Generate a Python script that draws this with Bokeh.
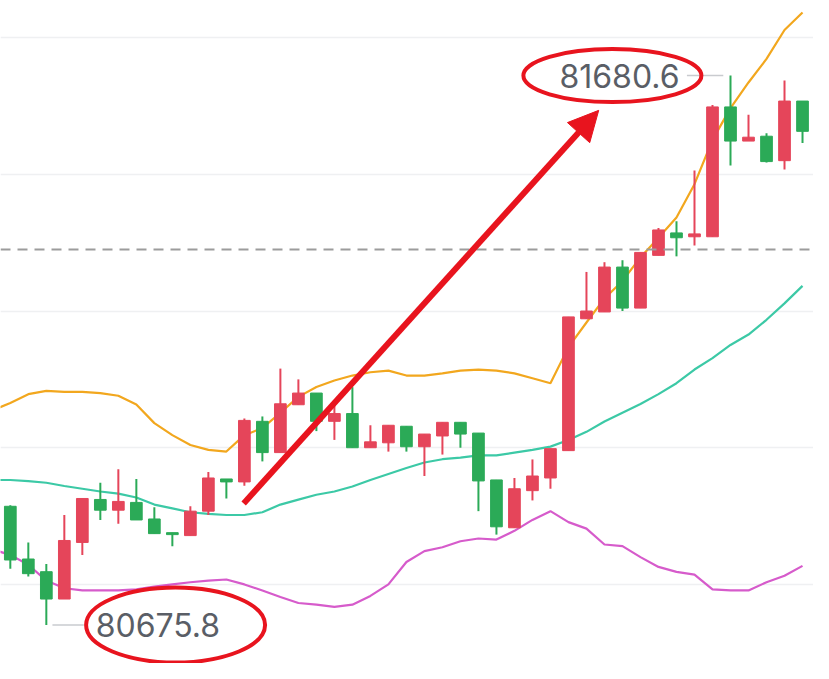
from bokeh.plotting import figure
from bokeh.models import Range1d, FixedTicker, Span, Arrow, NormalHead, ColumnDataSource
from bokeh.core.properties import value
from bokeh.embed import file_html
from bokeh.resources import INLINE

# ---- data ----
opens = [80892.9, 80796.5, 80773.3, 80723.3, 80826.8, 80905.4, 80885.8, 80900.0, 80869.7, 80844.7,
         80839.3, 80884.0, 80942.9, 80937.5, 81048.3, 80991.1, 81078.6, 81100.0, 81048.3, 81062.5,
         81000.0, 81009.0, 81039.3, 81001.8, 81021.5, 81046.5, 81026.8, 80941.1, 80853.6, 80921.5,
         80944.7, 80994.7, 81235.8, 81248.3, 81330.4, 81255.4, 81351.8, 81392.9, 81385.8, 81385.8,
         81623.3, 81560.8, 81569.7, 81525.0, 81634.0]
closes = [80794.7, 80769.7, 80723.3, 80830.4, 80907.2, 80885.8, 80901.8, 80867.9, 80842.9, 80841.1,
          80884.0, 80944.7, 80937.5, 81050.0, 80991.1, 81080.4, 81100.0, 81048.3, 81062.5, 81000.0,
          81010.8, 81041.1, 81001.8, 81025.0, 81046.5, 81025.0, 80939.3, 80855.4, 80925.0, 80948.3,
          80998.3, 81239.3, 81250.0, 81330.4, 81255.4, 81357.2, 81398.3, 81384.0, 81391.1, 81623.3,
          81560.8, 81567.9, 81523.3, 81634.0, 81578.6]
highs = [80895.0, 80826.8, 80787.5, 80876.8, 80907.2, 80935.8, 80960.8, 80942.9, 80891.1, 80844.7,
         80892.9, 80955.4, 80942.9, 81053.6, 81057.2, 81144.7, 81125.0, 81100.0, 81082.2, 81110.8,
         81041.1, 81041.1, 81039.3, 81025.0, 81046.5, 81046.5, 81026.8, 80941.1, 80944.7, 80978.6,
         80998.3, 81239.3, 81321.5, 81339.3, 81342.9, 81357.2, 81401.8, 81414.3, 81507.2, 81626.8,
         81680.6, 81609.0, 81575.0, 81671.5, 81634.0]
lows = [80778.6, 80764.3, 80675.8, 80723.3, 80803.6, 80867.9, 80860.8, 80867.9, 80842.9, 80819.7,
        80839.3, 80876.8, 80907.2, 80930.4, 80975.0, 80991.1, 81078.6, 81030.4, 81014.3, 81000.0,
        81000.0, 80992.9, 80992.9, 80948.3, 80987.5, 81000.0, 80884.0, 80841.1, 80853.6, 80903.6,
        80925.0, 80994.7, 81235.8, 81248.3, 81250.0, 81255.4, 81351.8, 81350.0, 81369.7, 81385.8,
        81516.1, 81560.8, 81521.5, 81509.0, 81557.2]

# Bollinger bands (first point belongs to the bar just left of the view)
band_upper = [81068, 81082, 81098, 81104, 81102, 81102, 81100, 81095, 81079, 81045,
              81023, 81005, 80996, 80993, 81023, 81036, 81064, 81093, 81111, 81123,
              81132, 81138, 81141, 81132, 81132, 81136, 81141, 81143, 81141, 81136,
              81127, 81118, 81184, 81229, 81273, 81305, 81348, 81384, 81421, 81482,
              81563, 81621, 81668, 81711, 81764, 81796]
band_mid = [80941, 80941, 80939, 80936, 80930, 80925, 80920, 80916, 80909, 80896,
            80889, 80882, 80879, 80877, 80877, 80882, 80896, 80905, 80914, 80920,
            80929, 80941, 80952, 80963, 80973, 80979, 80982, 80986, 80986, 80991,
            80996, 81002, 81014, 81029, 81048, 81064, 81080, 81098, 81118, 81143,
            81164, 81188, 81207, 81234, 81264, 81296]
band_lower = [80814, 80804, 80786, 80757, 80743, 80739, 80739, 80739, 80741, 80746,
              80750, 80754, 80757, 80759, 80750, 80739, 80727, 80716, 80713, 80709,
              80713, 80729, 80750, 80791, 80811, 80818, 80829, 80834, 80832, 80848,
              80868, 80884, 80864, 80852, 80823, 80820, 80800, 80782, 80773, 80768,
              80741, 80739, 80739, 80754, 80766, 80784]

grid_levels = [80750, 81000, 81250, 81500, 81750]
current_price = 81362.5
low_label = "80675.8"
high_label = "81680.6"

# ---- styles ----
UP = "#E5455A"
DOWN = "#2BAA57"
RED = "#E8141E"
TXT = "#5A5E66"

n = len(opens)
idx = list(range(n))
band_idx = list(range(-1, n))
colors = [UP if c >= o else DOWN for o, c in zip(opens, closes)]
tops = [max(o, c) for o, c in zip(opens, closes)]
bots = [min(o, c) for o, c in zip(opens, closes)]

src = ColumnDataSource(dict(x=idx, top=tops, bottom=bots, high=highs, low=lows, color=colors))

W, H = 813, 663
p = figure(width=W, height=H, output_backend="svg", toolbar_location=None,
           x_range=Range1d(-0.545, 44.61), y_range=Range1d(80605.4, 81817.9),
           min_border=0, outline_line_color=None, background_fill_color="white",
           border_fill_color="white")
p.xaxis.visible = False
p.yaxis.visible = False
p.xgrid.visible = False
p.ygrid.ticker = FixedTicker(ticks=grid_levels)
p.ygrid.grid_line_color = "#EFF0F2"
p.ygrid.grid_line_width = 1.5

# current price dashed line
p.add_layout(Span(location=current_price, dimension="width", line_color="#9C9C9C",
                  line_width=2, line_dash="10 7"))

# bands
p.line(band_idx, band_upper, line_color="#F2A71E", line_width=2.2)
p.line(band_idx, band_mid, line_color="#3CC9A6", line_width=2.2)
p.line(band_idx, band_lower, line_color="#D65BCB", line_width=2.2)

# candles
p.segment(x0="x", y0="high", x1="x", y1="low", line_color="color", line_width=2, source=src)
p.vbar(x="x", width=0.65, top="top", bottom="bottom", fill_color="color",
       line_color="color", line_width=1, source=src)

# extreme annotations
lo_i = lows.index(min(lows))
hi_i = highs.index(max(highs))
lo_v = min(lows)
hi_v = max(highs)

p.segment(x0=[lo_i + 0.34], y0=[lo_v], x1=[lo_i + 2.08], y1=[lo_v],
          line_color="#C9CBCF", line_width=1.5)
p.segment(x0=[hi_i - 2.42], y0=[hi_v], x1=[hi_i - 0.4], y1=[hi_v],
          line_color="#C9CBCF", line_width=1.5)

p.text(x=[lo_i + 2.74], y=[lo_v], text=[low_label], text_font=value("Inter"),
       text_font_size="32px", text_color=TXT, text_align="left", text_baseline="middle")
p.text(x=[hi_i - 9.5], y=[hi_v], text=[high_label], text_font=value("Inter"),
       text_font_size="32px", text_color=TXT, text_align="left", text_baseline="middle")

p.ellipse(x=[lo_i + 7.18], y=[lo_v], width=179, height=75, width_units="screen",
          height_units="screen", fill_color=None, line_color=RED, line_width=4)
p.ellipse(x=[hi_i - 6.56], y=[hi_v], width=178, height=53, width_units="screen",
          height_units="screen", fill_color=None, line_color=RED, line_width=4)

# trend arrow
p.add_layout(Arrow(end=NormalHead(size=30, fill_color=RED, line_color=RED, line_width=1),
                   x_start=12.96, y_start=80898, x_end=32.68, y_end=81617,
                   line_color=RED, line_width=6))

open("out.html", "w").write(file_html(p, INLINE))
